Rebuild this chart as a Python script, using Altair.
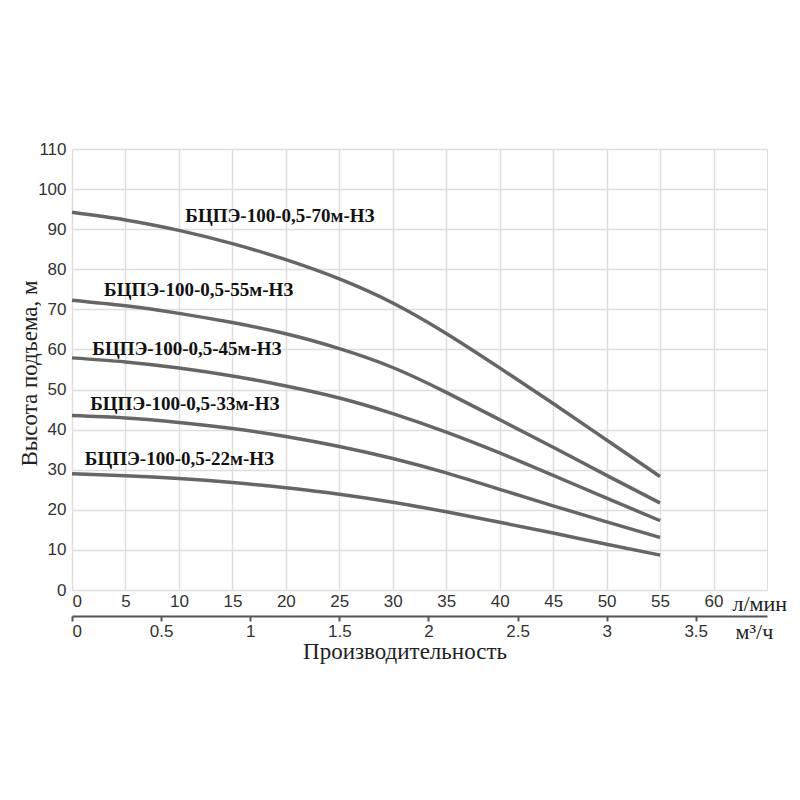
import altair as alt
import pandas as pd

# Flow, l/min
flow = [0, 5, 10, 15, 20, 25, 30, 35, 40, 45, 50, 55]
# Head, m, per pump model
head_70 = [94.2, 92.3, 89.7, 86.4, 82.4, 77.6, 71.6, 64.0, 55.4, 46.5, 37.4, 28.3]
head_55 = [72.3, 70.9, 69.0, 66.7, 63.9, 60.2, 55.5, 49.3, 42.5, 35.6, 28.6, 21.7]
head_45 = [57.9, 56.9, 55.4, 53.4, 50.9, 47.9, 44.0, 39.4, 34.2, 28.6, 22.9, 17.3]
head_33 = [43.5, 42.9, 41.8, 40.3, 38.3, 35.8, 32.8, 29.2, 25.1, 21.0, 17.0, 13.1]
head_22 = [29.0, 28.5, 27.8, 26.8, 25.5, 23.9, 21.9, 19.5, 16.9, 14.2, 11.4, 8.7]

models = ["БЦПЭ-100-0,5-70м-НЗ", "БЦПЭ-100-0,5-55м-НЗ", "БЦПЭ-100-0,5-45м-НЗ",
          "БЦПЭ-100-0,5-33м-НЗ", "БЦПЭ-100-0,5-22м-НЗ"]
label_x = [10.6, 3.0, 1.9, 1.7, 1.2]
label_y = [93.3, 74.8, 60.0, 46.3, 32.8]

x_ticks = [0, 5, 10, 15, 20, 25, 30, 35, 40, 45, 50, 55, 60]
y_ticks = [0, 10, 20, 30, 40, 50, 60, 70, 80, 90, 100, 110]
m3_ticks = [0, 0.5, 1, 1.5, 2, 2.5, 3, 3.5]

rows = []
for name, heads in zip(models, [head_70, head_55, head_45, head_33, head_22]):
    for q, h in zip(flow, heads):
        rows.append({"model": name, "q": q, "h": h})
curves = pd.DataFrame(rows)
labels = pd.DataFrame({"model": models, "x": label_x, "y": label_y})
m3 = pd.DataFrame({"m3": m3_ticks, "h": [0] * len(m3_ticks)})

xscale = alt.Scale(domain=[0, 65], nice=False, zero=True)
yscale = alt.Scale(domain=[0, 110], nice=False)

lines = alt.Chart(curves).mark_line(color="#666666", strokeWidth=3.5, interpolate="natural").encode(
    x=alt.X("q:Q", scale=xscale,
            axis=alt.Axis(values=x_ticks, grid=True, gridColor="#dedede", gridWidth=1.5,
                          ticks=False, domain=False, labelFont="Liberation Sans",
                          labelFontSize=17, labelColor="#333333", labelPadding=3,
                          title="л/мин", titleFont="Liberation Serif", titleFontSize=22,
                          titleFontWeight="normal", titleColor="#222222",
                          titleX=660, titleY=20, titleAlign="left",
                          titleBaseline="alphabetic")),
    y=alt.Y("h:Q", scale=yscale,
            axis=alt.Axis(values=y_ticks, grid=True, gridColor="#dedede", gridWidth=1.5,
                          ticks=False, domain=False, labelFont="Liberation Sans",
                          labelFontSize=17, labelColor="#333333", labelPadding=6,
                          title="Высота подъема, м", titleFont="Liberation Serif",
                          titleFontSize=23, titleFontWeight="normal", titleColor="#222222",
                          titleX=-43, titleY=224, titleAngle=-90, titleAlign="center",
                          titleBaseline="middle")),
    detail="model:N",
)

texts = alt.Chart(labels).mark_text(align="left", baseline="middle", font="Liberation Serif",
                                    fontWeight="bold", fontSize=19, color="#111111").encode(
    x=alt.X("x:Q", scale=xscale, axis=None),
    y=alt.Y("y:Q", scale=yscale),
    text="model:N",
)

xtitle = alt.Chart(pd.DataFrame({"t": ["Производительность"]})).mark_text(
    font="Liberation Serif", fontSize=23, color="#222222", align="center", baseline="middle"
).encode(x=alt.value(333), y=alt.value(503), text="t:N")

second = alt.Chart(m3).mark_point(opacity=0).encode(
    x=alt.X("m3:Q", scale=alt.Scale(domain=[0, 3.9], nice=False),
            axis=alt.Axis(orient="bottom", offset=26, values=m3_ticks, format="~g",
                          grid=False, domain=True, domainColor="#555555", domainWidth=2,
                          ticks=True, tickSize=5, tickColor="#555555", tickWidth=2,
                          labelFont="Liberation Sans", labelFontSize=17,
                          labelColor="#333333", labelPadding=2,
                          title="м³/ч", titleFont="Liberation Serif", titleFontSize=22,
                          titleFontWeight="normal", titleColor="#222222",
                          titleX=663, titleY=22, titleAlign="left",
                          titleBaseline="alphabetic")),
    y=alt.Y("h:Q", scale=yscale),
)

chart = alt.layer(lines, texts, xtitle, second).resolve_scale(x="independent").properties(
    width=695, height=441,
    autosize=alt.AutoSizeParams(type="none"),
    padding={"left": 64, "top": 141, "right": 22, "bottom": 150},
).configure_view(stroke="#444444", strokeWidth=3).configure(background="white")

chart.save("out.html", embed_options={"renderer": "svg", "actions": False})
